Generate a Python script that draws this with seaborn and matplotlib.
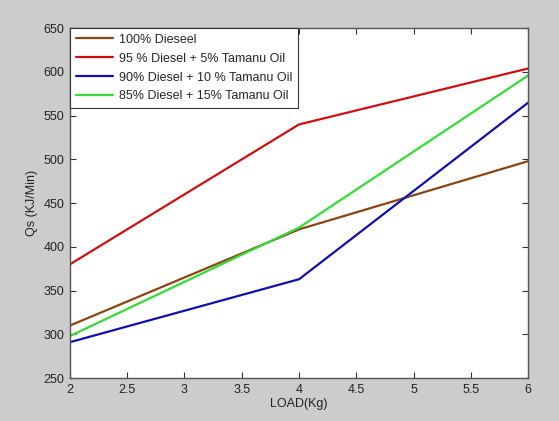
import pandas as pd
import matplotlib
matplotlib.use("Agg")
import matplotlib.pyplot as plt
import seaborn as sns

load = [2, 4, 6]
diesel_100 = [310, 420, 498]
diesel_95 = [380, 540, 604]
diesel_90 = [291, 363, 565]
diesel_85 = [298, 422, 596]

labels = ['100% Dieseel', '95 % Diesel + 5% Tamanu Oil',
          '90% Diesel + 10 % Tamanu Oil', '85% Diesel + 15% Tamanu Oil']
colors = ['#8B4513', '#D01010', '#1010B0', '#33DD33']

df = pd.DataFrame({
    'load': load * 4,
    'qs': diesel_100 + diesel_95 + diesel_90 + diesel_85,
    'fuel': [lab for lab in labels for _ in load],
})

sns.set_style('ticks')
plt.rcParams['font.family'] = ['Liberation Sans', 'DejaVu Sans']

fig = plt.figure(figsize=(5.59, 4.21), dpi=100, facecolor='#CCCCCC')
ax = fig.add_axes([0.125, 0.102, 0.82, 0.831])
sns.lineplot(data=df, x='load', y='qs', hue='fuel', hue_order=labels,
             palette=colors, linewidth=1.6, ax=ax)

ax.set_xlim(2, 6)
ax.set_ylim(250, 650)
ax.set_xticks([2, 2.5, 3, 3.5, 4, 4.5, 5, 5.5, 6])
ax.set_xticklabels(['2', '2.5', '3', '3.5', '4', '4.5', '5', '5.5', '6'])
ax.set_yticks(range(250, 651, 50))
ax.tick_params(direction='in', top=True, right=True, labelsize=9,
               length=4, colors='#333333', pad=4)
ax.tick_params(labelcolor='#222222')
for s in ax.spines.values():
    s.set_color('#555555')
    s.set_linewidth(1.0)
ax.set_xlabel('LOAD(Kg)', fontsize=9, color='#222222', labelpad=2)
ax.set_ylabel('Qs (KJ/Min)', fontsize=9, color='#222222', labelpad=4)

leg = ax.legend(loc='upper left', fontsize=9, frameon=True, fancybox=False,
                borderaxespad=0.0, handlelength=3.0, labelspacing=0.55,
                borderpad=0.45, handletextpad=0.5)
leg.get_frame().set_edgecolor('#333333')
leg.get_frame().set_linewidth(0.8)
leg.get_frame().set_alpha(1)

fig.savefig('out.png', dpi=100, facecolor=fig.get_facecolor())
